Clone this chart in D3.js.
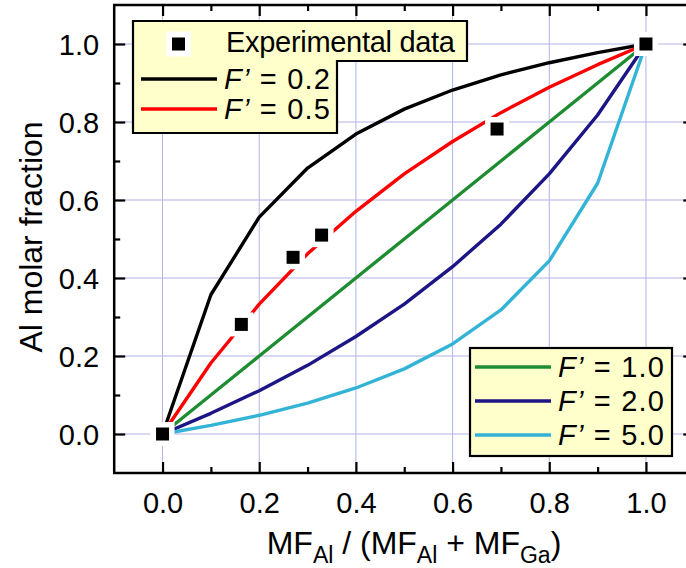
<!DOCTYPE html>
<html>
<head>
<meta charset="utf-8">
<script src="https://cdn.jsdelivr.net/npm/d3@7"></script>
<style>
  html, body { margin: 0; padding: 0; background: #fff; }
  svg { display: block; font-family: "Liberation Sans", Arial, sans-serif; }
</style>
</head>
<body>
<svg id="chart" width="686" height="568"></svg>
<script>
// ---- data ----
const xGrid = [0, 0.1, 0.2, 0.3, 0.4, 0.5, 0.6, 0.7, 0.8, 0.9, 1.0];
const seriesF02 = [0, 0.357, 0.556, 0.682, 0.769, 0.833, 0.882, 0.921, 0.952, 0.978, 1.0];
const seriesF05 = [0, 0.182, 0.333, 0.462, 0.571, 0.667, 0.750, 0.824, 0.889, 0.947, 1.0];
const seriesF10 = [0, 0.1, 0.2, 0.3, 0.4, 0.5, 0.6, 0.7, 0.8, 0.9, 1.0];
const seriesF20 = [0, 0.053, 0.111, 0.176, 0.250, 0.333, 0.429, 0.538, 0.667, 0.818, 1.0];
const seriesF50 = [0, 0.022, 0.048, 0.079, 0.118, 0.167, 0.231, 0.318, 0.444, 0.643, 1.0];
const expX = [0, 0.163, 0.270, 0.329, 0.692, 1.0];
const expY = [0, 0.281, 0.453, 0.510, 0.782, 1.0];
const seriesNames = ["0.2", "0.5", "1.0", "2.0", "5.0"];
const seriesColors = ["#000000", "#ff0000", "#1e8c30", "#1c1585", "#33b4d6"];
const majorTicks = [0, 0.2, 0.4, 0.6, 0.8, 1.0];
const minorTicks = [0.1, 0.3, 0.5, 0.7, 0.9];
const tickLabels = ["0.0", "0.2", "0.4", "0.6", "0.8", "1.0"];

const allSeries = [seriesF02, seriesF05, seriesF10, seriesF20, seriesF50];

// ---- scales ----
const svg = d3.select("#chart");
const x = d3.scaleLinear().domain([-0.1, 1.1]).range([114.2, 694.3]);
const y = d3.scaleLinear().domain([-0.1, 1.1]).range([473, 5]);
const TICK_FONT = 29;
const LEG_FONT = 29;
const TITLE_FONT = 32;
const SUB_FONT = 23;

// grid
const grid = svg.append("g").attr("stroke", "#b3b3e6").attr("stroke-width", 1);
grid.selectAll("line.gx").data(majorTicks).join("line")
  .attr("x1", d => x(d)).attr("x2", d => x(d))
  .attr("y1", y(-0.1)).attr("y2", y(1.1));
grid.selectAll("line.gy").data(majorTicks).join("line")
  .attr("y1", d => y(d)).attr("y2", d => y(d))
  .attr("x1", x(-0.1)).attr("x2", x(1.1));

// axes with inward ticks
function addAxis(axisGen, tx, ty, ticks, size) {
  const g = svg.append("g").attr("transform", `translate(${tx},${ty})`)
    .call(axisGen.tickValues(ticks).tickSize(size).tickFormat(""));
  g.select(".domain").remove();
  g.selectAll(".tick line").attr("stroke", "#000").attr("stroke-width", 2.2);
  return g;
}
const MAJ = 11, MIN = 6;
addAxis(d3.axisTop(x), 0, y(-0.1), majorTicks, MAJ);
addAxis(d3.axisTop(x), 0, y(-0.1), minorTicks, MIN);
addAxis(d3.axisBottom(x), 0, y(1.1), majorTicks, MAJ);
addAxis(d3.axisBottom(x), 0, y(1.1), minorTicks, MIN);
addAxis(d3.axisRight(y), x(-0.1), 0, majorTicks, MAJ);
addAxis(d3.axisRight(y), x(-0.1), 0, minorTicks, MIN);
addAxis(d3.axisLeft(y), x(1.1), 0, majorTicks, MAJ);
addAxis(d3.axisLeft(y), x(1.1), 0, minorTicks, MIN);

// tick labels
const xl = svg.append("g").attr("transform", `translate(0,${y(-0.1)})`)
  .call(d3.axisBottom(x).tickValues(majorTicks).tickSize(0).tickPadding(40)
    .tickFormat((d, i) => tickLabels[i]));
xl.select(".domain").remove();
xl.selectAll("text").attr("font-size", TICK_FONT).attr("fill", "#000")
  .attr("font-family", '"Liberation Sans", Arial, sans-serif').attr("dy", 0);

const yl = svg.append("g").attr("transform", `translate(${x(-0.1)},0)`)
  .call(d3.axisLeft(y).tickValues(majorTicks).tickSize(0).tickPadding(15)
    .tickFormat((d, i) => tickLabels[i]));
yl.select(".domain").remove();
yl.selectAll("text").attr("font-size", TICK_FONT).attr("fill", "#000")
  .attr("font-family", '"Liberation Sans", Arial, sans-serif').attr("dy", "0.36em");

// frame
svg.append("rect")
  .attr("x", x(-0.1)).attr("y", y(1.1))
  .attr("width", x(1.1) - x(-0.1)).attr("height", y(-0.1) - y(1.1))
  .attr("fill", "none").attr("stroke", "#000").attr("stroke-width", 2.5);

// lines
const line = d3.line().x((d, i) => x(xGrid[i])).y(d => y(d));
svg.append("g").selectAll("path").data(allSeries).join("path")
  .attr("d", d => line(d))
  .attr("fill", "none")
  .attr("stroke", (d, i) => seriesColors[i])
  .attr("stroke-width", 3.4)
  .attr("stroke-linejoin", "round");

// experimental markers with white halo
const HALO = 24, SQ = 13;
const mk = svg.append("g");
mk.selectAll("rect.h").data(expX).join("rect")
  .attr("x", (d) => x(d) - HALO / 2).attr("y", (d, i) => y(expY[i]) - HALO / 2)
  .attr("width", HALO).attr("height", HALO).attr("fill", "#fff");
mk.selectAll("rect.s").data(expX).join("rect")
  .attr("x", (d) => x(d) - SQ / 2).attr("y", (d, i) => y(expY[i]) - SQ / 2)
  .attr("width", SQ).attr("height", SQ).attr("fill", "#000");

// legend 1 (top-left, L-shaped)
const LEG_FILL = "#ffffcc";
svg.append("path")
  .attr("d", "M133,21 H467 V61 H337 V133 H133 Z")
  .attr("fill", LEG_FILL).attr("stroke", "#000").attr("stroke-width", 2.2);
svg.append("rect").attr("x", 178.5 - 12.5).attr("y", 44 - 12.5)
  .attr("width", 25).attr("height", 25).attr("fill", "#fff");
svg.append("rect").attr("x", 178.5 - SQ / 2).attr("y", 44 - SQ / 2)
  .attr("width", SQ).attr("height", SQ).attr("fill", "#000");
svg.append("text").attr("x", 226).attr("y", 52).attr("font-size", LEG_FONT)
  .attr("textLength", 229).attr("lengthAdjust", "spacing")
  .text("Experimental data");

function legendRow(yy, x1, x2, tx, color, label) {
  svg.append("line").attr("x1", x1).attr("x2", x2).attr("y1", yy).attr("y2", yy)
    .attr("stroke", color).attr("stroke-width", 3.4);
  const t = svg.append("text").attr("x", tx).attr("y", yy + 9.5).attr("font-size", LEG_FONT)
    .attr("textLength", 106).attr("lengthAdjust", "spacing");
  t.append("tspan").attr("font-style", "italic").text("F’");
  t.append("tspan").text(" = " + label);
}
legendRow(79, 141, 217, 224, seriesColors[0], seriesNames[0]);
legendRow(109, 141, 217, 224, seriesColors[1], seriesNames[1]);

// legend 2 (bottom-right)
svg.append("rect").attr("x", 470).attr("y", 348).attr("width", 202).attr("height", 108)
  .attr("fill", LEG_FILL).attr("stroke", "#000").attr("stroke-width", 2.2);
legendRow(367, 475, 551, 558, seriesColors[2], seriesNames[2]);
legendRow(401, 475, 551, 558, seriesColors[3], seriesNames[3]);
legendRow(435, 475, 551, 558, seriesColors[4], seriesNames[4]);

// axis titles
const xt = svg.append("text").attr("x", 414).attr("y", 554).attr("font-size", TITLE_FONT)
  .attr("text-anchor", "middle");
xt.append("tspan").text("MF");
xt.append("tspan").attr("font-size", SUB_FONT).attr("dy", 9).text("Al");
xt.append("tspan").attr("dy", -9).text(" / (MF");
xt.append("tspan").attr("font-size", SUB_FONT).attr("dy", 9).text("Al");
xt.append("tspan").attr("dy", -9).text(" + MF");
xt.append("tspan").attr("font-size", SUB_FONT).attr("dy", 9).text("Ga");
xt.append("tspan").attr("dy", -9).text(")");

svg.append("text").attr("transform", "translate(42,237) rotate(-90)")
  .attr("text-anchor", "middle").attr("font-size", TITLE_FONT)
  .text("Al molar fraction");
</script>
</body>
</html>
